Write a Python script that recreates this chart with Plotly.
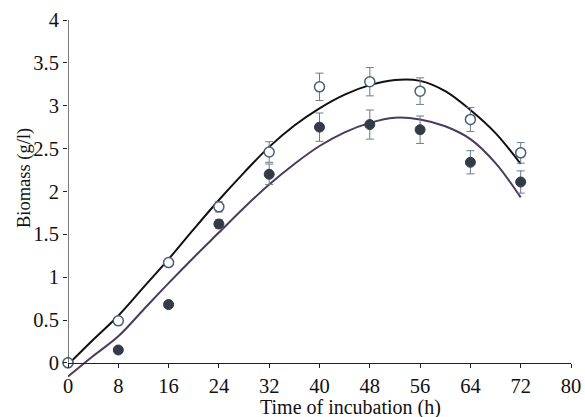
import plotly.graph_objects as go

# Observed data
time_h = [0, 8, 16, 24, 32, 40, 48, 56, 64, 72]
open_vals = [0.0, 0.49, 1.17, 1.82, 2.46, 3.22, 3.28, 3.17, 2.84, 2.45]
open_err = [0.0, 0.02, 0.03, 0.06, 0.12, 0.16, 0.165, 0.155, 0.14, 0.12]
filled_vals = [0.0, 0.15, 0.68, 1.62, 2.20, 2.75, 2.78, 2.72, 2.34, 2.11]
filled_err = [0.0, 0.02, 0.03, 0.05, 0.12, 0.165, 0.17, 0.16, 0.135, 0.13]

# Fitted curves
curve_x = [0, 4, 8, 12, 16, 20, 24, 28, 32, 36, 40, 44, 48, 52, 56, 60, 64, 68, 72]
curve_black = [-0.02, 0.27, 0.55, 0.88, 1.21, 1.56, 1.90, 2.22, 2.52, 2.77, 2.97,
               3.13, 3.24, 3.30, 3.29, 3.17, 2.95, 2.68, 2.32]
curve_purple = [-0.16, 0.08, 0.31, 0.62, 0.93, 1.23, 1.52, 1.81, 2.08, 2.32, 2.53,
                2.69, 2.80, 2.86, 2.84, 2.76, 2.61, 2.33, 1.93]

x_ticks = [0, 8, 16, 24, 32, 40, 48, 56, 64, 72, 80]
y_ticks = [0, 0.5, 1, 1.5, 2, 2.5, 3, 3.5, 4]
y_tick_text = ["0", "0.5", "1", "1.5", "2", "2.5", "3", "3.5", "4"]

FONT = "Liberation Serif, Times New Roman, serif"
FS = 20.5
Y_MIN = -0.2
Y_MAX = 4.0

W, H = 585, 417
ML, MR, MT, MB = 68, 14, 20, 37
plot_left, plot_right = ML, W - MR
plot_top, plot_bottom = MT, H - MB
pw = plot_right - plot_left
ph = plot_bottom - plot_top

fig = go.Figure()
fig.add_trace(go.Scatter(x=curve_x, y=curve_black, mode="lines",
                         line=dict(color="#111111", width=2, shape="spline"),
                         showlegend=False, hoverinfo="skip"))
fig.add_trace(go.Scatter(x=curve_x, y=curve_purple, mode="lines",
                         line=dict(color="#4b3b5e", width=2, shape="spline"),
                         showlegend=False, hoverinfo="skip"))
fig.add_trace(go.Scatter(x=time_h, y=filled_vals, mode="markers",
                         marker=dict(size=10, color="#353b46",
                                     line=dict(color="#353b46", width=1)),
                         error_y=dict(type="data", array=filled_err, color="#6d7b8c",
                                      thickness=1, width=4),
                         cliponaxis=False, showlegend=False))
fig.add_trace(go.Scatter(x=time_h, y=open_vals, mode="markers",
                         marker=dict(size=10, color="white",
                                     line=dict(color="#4a5e78", width=1.5)),
                         error_y=dict(type="data", array=open_err, color="#6d7b8c",
                                      thickness=1, width=4),
                         cliponaxis=False, showlegend=False))

# y-axis line from 0 to 4 only
fig.add_shape(type="line", x0=0, x1=0, y0=0, y1=Y_MAX, xref="x", yref="y",
              line=dict(color="#222222", width=1.2))

fig.update_layout(
    width=W, height=H,
    margin=dict(l=ML, r=MR, t=MT, b=MB, autoexpand=False),
    paper_bgcolor="white", plot_bgcolor="white",
    font=dict(family=FONT, size=FS, color="#111111"),
    xaxis=dict(range=[0, 80], tickvals=x_ticks, ticks="outside", ticklen=4,
               tickcolor="#222222", showline=True, linecolor="#222222", linewidth=1.2,
               showgrid=False, zeroline=False, anchor="free", automargin=False,
               position=(0 - Y_MIN) / (Y_MAX - Y_MIN),
               tickfont=dict(family=FONT, size=FS)),
    yaxis=dict(range=[Y_MIN, Y_MAX], tickvals=y_ticks, ticktext=y_tick_text,
               ticks="outside", ticklen=4, tickcolor="#222222", automargin=False,
               showline=False, showgrid=False, zeroline=False,
               tickfont=dict(family=FONT, size=FS)),
    annotations=[
        dict(text="Time of incubation (h)", x=45, xref="x", yref="paper",
             y=(plot_bottom - 407) / ph, yanchor="middle", xanchor="center",
             showarrow=False, font=dict(family=FONT, size=20)),
        dict(text="Biomass (g/l)", xref="paper", yref="paper",
             x=(24 - plot_left) / pw, y=(plot_bottom - 178) / ph,
             xanchor="center", yanchor="middle", textangle=-90, showarrow=False,
             font=dict(family=FONT, size=18.5)),
    ],
)

fig.write_html("out.html",
               config={"displayModeBar": False},
               post_script="document.body.style.margin='0px';document.body.style.padding='0px';")
